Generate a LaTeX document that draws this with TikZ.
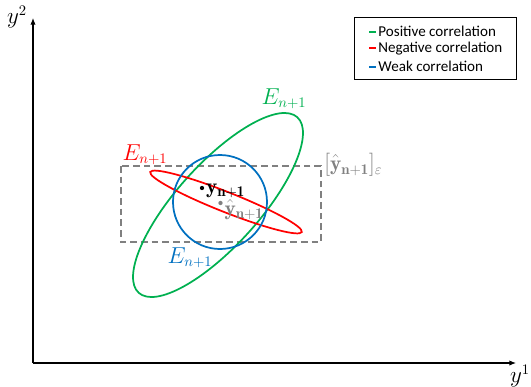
\documentclass[tikz,border=0pt]{standalone}
\usepackage{fontspec}
\usepackage{amsmath}
\newfontfamily\legfont{Carlito}
\usetikzlibrary{arrows.meta}
\definecolor{pgreen}{RGB}{0,176,80}
\definecolor{nred}{RGB}{255,0,0}
\definecolor{wblue}{RGB}{0,112,192}
\definecolor{dgray}{RGB}{128,128,128}
\tikzset{
  axis/.style={line width=0.8pt,-{Latex[length=5pt,width=4pt]}},
  ell/.style={line width=1.3pt},
  lab/.style={font=\fontsize{16}{19}\selectfont},
  legtxt/.style={font=\legfont\fontsize{11.3}{13}\selectfont,anchor=west,inner sep=0pt},
  dotmark/.style={circle,fill,inner sep=0pt,minimum size=3.2pt}
}
\begin{document}
\begin{tikzpicture}[x=0.75pt,y=-0.75pt]
\useasboundingbox (0,0) rectangle (531,386);
% axes
\coordinate (o) at (33,363);
\coordinate (ytop) at (33,18);
\coordinate (xend) at (516,363);
\draw[axis] (o) -- (ytop);
\draw[axis] (o) -- (xend);
\node[lab] (y2) at (17,17) {$y^2$};
\node[lab] (y1) at (520,376) {$y^1$};
% dashed rectangle
\draw[dgray,dashed,line width=1pt,dash pattern=on 5pt off 3pt] (121,166) rectangle (321,242);
% ellipses
\draw[ell,pgreen] (218,205) ellipse[x radius=118.3,y radius=41.1,rotate=47.9];
\draw[ell,nred] (226,202) ellipse[x radius=81.5,y radius=10,rotate=-21.6];
\draw[ell,wblue] (220,202) circle[radius=47];
% points
\node[dotmark,black] (yp) at (202,188) {};
\node[dotmark,dgray] (yh) at (220.5,203) {};
\node[lab,anchor=west,inner sep=1pt] (ylab) at ([yshift=-2pt]yp.east) {$\mathbf{y}_{\mathbf{n+1}}$};
\node[lab,anchor=west,inner sep=1pt,text=dgray] (yhlab) at ([yshift=-5pt]yh.east) {$\hat{\mathbf{y}}_{\mathbf{n+1}}$};
% labels
\node[lab,text=nred] (er) at (145,155) {$E_{n+1}$};
\node[lab,text=pgreen] (eg) at (284,99) {$E_{n+1}$};
\node[lab,text=wblue] (eb) at (190,258) {$E_{n+1}$};
\node[lab,text=dgray,anchor=west,inner sep=0pt] (box) at (324,165) {$[\hat{\mathbf{y}}_{\mathbf{n+1}}]_{\varepsilon}$};
% legend
\node[draw,line width=0.6pt,inner sep=0pt,minimum width=122pt,minimum height=46.5pt] (leg) at (435.5,48) {};
\node[legtxt] (l1) at (369,31.5) {{\color{pgreen}\rule[2.8pt]{5pt}{1.7pt}}\,Positive correlation};
\node[legtxt] (l2) at (369,49) {{\color{nred}\rule[2.8pt]{5pt}{1.7pt}}\,Negative correlation};
\node[legtxt] (l3) at (369,66.5) {{\color{wblue}\rule[2.8pt]{5pt}{1.7pt}}\,Weak correlation};
\end{tikzpicture}
\end{document}
